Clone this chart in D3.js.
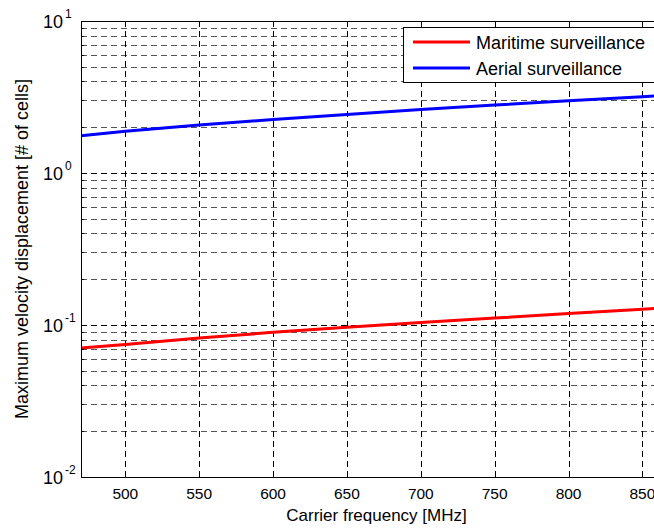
<!DOCTYPE html>
<html>
<head>
<meta charset="utf-8">
<script src="https://cdn.jsdelivr.net/npm/d3@7"></script>
<style>
  body { margin: 0; background: #fff; }
  svg { display: block; overflow: hidden; font-family: "Liberation Sans", Arial, sans-serif; }
</style>
</head>
<body>
<svg id="chart" width="654" height="530"></svg>
<script>
// values
const freqs = [470, 500, 550, 600, 650, 700, 750, 800, 850, 870];
const aerial = [1.76, 1.88, 2.07, 2.25, 2.43, 2.62, 2.80, 2.99, 3.18, 3.25];
const maritime = [0.0705, 0.0745, 0.082, 0.0895, 0.0966, 0.104, 0.111, 0.119, 0.127, 0.130];
const xTicks = [500, 550, 600, 650, 700, 750, 800, 850];
const yDecades = [-2, -1, 0, 1];
const seriesNames = ["Maritime surveillance", "Aerial surveillance"];
const seriesColors = ["#ff0000", "#0000ff"];

const svg = d3.select("#chart");
const pLeft = 81, pRight = 672, pTop = 21, pBottom = 477;

const x = d3.scaleLinear().domain([470, 870]).range([pLeft, pRight]);
const y = d3.scaleLog().domain([0.01, 10]).range([pBottom, pTop]);

svg.append("defs").append("clipPath").attr("id", "plot")
  .append("rect").attr("x", pLeft).attr("y", pTop)
  .attr("width", pRight - pLeft).attr("height", pBottom - pTop);

// grid
const minorVals = [];
yDecades.slice(0, 3).forEach(e => {
  for (let k = 2; k <= 9; k++) minorVals.push(k * Math.pow(10, e));
});
const grid = svg.append("g").attr("shape-rendering", "crispEdges");
grid.selectAll(".ymin").data(minorVals).enter().append("line")
  .attr("x1", pLeft).attr("x2", pRight)
  .attr("y1", d => Math.round(y(d)) + 0.5).attr("y2", d => Math.round(y(d)) + 0.5)
  .attr("stroke", "#555").attr("stroke-dasharray", "6,4");
grid.selectAll(".ymaj").data([0.1, 1]).enter().append("line")
  .attr("x1", pLeft).attr("x2", pRight)
  .attr("y1", d => Math.round(y(d)) + 0.5).attr("y2", d => Math.round(y(d)) + 0.5)
  .attr("stroke", "#000").attr("stroke-dasharray", "6,4");
grid.selectAll(".xg").data(xTicks).enter().append("line")
  .attr("x1", d => Math.round(x(d)) + 0.5).attr("x2", d => Math.round(x(d)) + 0.5)
  .attr("y1", pTop).attr("y2", pBottom)
  .attr("stroke", "#000").attr("stroke-dasharray", "6,4");

// data lines
const line = d3.line().x((d, i) => x(freqs[i])).y(d => y(d));
const lines = svg.append("g").attr("clip-path", "url(#plot)");
[maritime, aerial].forEach((s, i) => {
  lines.append("path").datum(s)
    .attr("fill", "none")
    .attr("stroke", seriesColors[i])
    .attr("stroke-width", 3)
    .attr("d", line);
});

// axes box with inward ticks
const axes = svg.append("g").attr("shape-rendering", "crispEdges");
axes.append("rect").attr("x", pLeft + 0.5).attr("y", pTop + 0.5)
  .attr("width", pRight - pLeft).attr("height", pBottom - pTop)
  .attr("fill", "none").attr("stroke", "#000");
xTicks.forEach(t => {
  const px = Math.round(x(t)) + 0.5;
  axes.append("line").attr("x1", px).attr("x2", px).attr("y1", pBottom).attr("y2", pBottom - 6).attr("stroke", "#000");
  axes.append("line").attr("x1", px).attr("x2", px).attr("y1", pTop).attr("y2", pTop + 6).attr("stroke", "#000");
});
minorVals.concat([0.1, 1]).forEach(v => {
  const py = Math.round(y(v)) + 0.5;
  const len = (v === 0.1 || v === 1) ? 6 : 3;
  axes.append("line").attr("x1", pLeft).attr("x2", pLeft + len).attr("y1", py).attr("y2", py).attr("stroke", "#000");
  axes.append("line").attr("x1", pRight - len).attr("x2", pRight).attr("y1", py).attr("y2", py).attr("stroke", "#000");
});

// x tick labels
svg.append("g").selectAll("text").data(xTicks).enter().append("text")
  .attr("x", d => x(d)).attr("y", pBottom + 22)
  .attr("text-anchor", "middle").attr("font-size", 15.5)
  .text(d => d);

// y tick labels 10^e
yDecades.forEach(e => {
  svg.append("text")
    .attr("x", 63).attr("y", y(Math.pow(10, e)) + 7)
    .attr("text-anchor", "end").attr("font-size", 18)
    .text("10");
  svg.append("text")
    .attr("x", 65).attr("y", y(Math.pow(10, e)) - 3)
    .attr("font-size", 12)
    .text(e);
});

// axis labels
svg.append("text")
  .attr("x", (pLeft + pRight) / 2).attr("y", 521)
  .attr("text-anchor", "middle").attr("font-size", 17)
  .text("Carrier frequency [MHz]");
svg.append("text")
  .attr("transform", "rotate(-90)")
  .attr("x", -(pTop + pBottom) / 2).attr("y", 28)
  .attr("text-anchor", "middle").attr("font-size", 18)
  .text("Maximum velocity displacement [# of cells]");

// legend
const lg = svg.append("g");
lg.append("rect").attr("x", 403.5).attr("y", 27.5)
  .attr("width", 263).attr("height", 55)
  .attr("fill", "#fff").attr("stroke", "#000").attr("shape-rendering", "crispEdges");
seriesNames.forEach((name, i) => {
  const ly = 42 + i * 26;
  lg.append("line").attr("x1", 413).attr("x2", 470).attr("y1", ly).attr("y2", ly)
    .attr("stroke", seriesColors[i]).attr("stroke-width", 3);
  lg.append("text").attr("x", 476).attr("y", ly + 7)
    .attr("font-size", 18).text(name);
});
</script>
</body>
</html>
